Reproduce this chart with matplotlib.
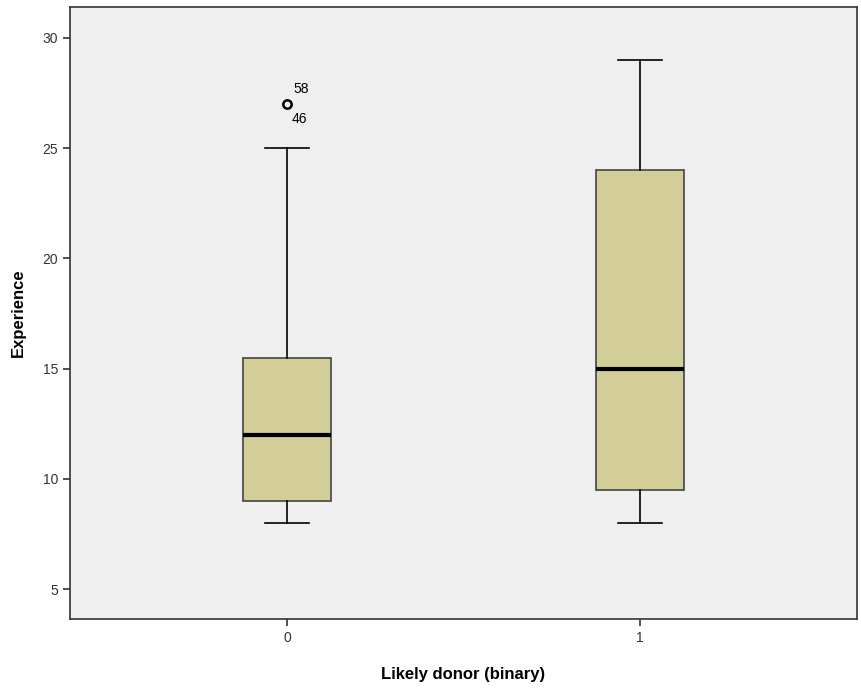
import matplotlib
matplotlib.use("Agg")
import matplotlib.pyplot as plt

plt.rcParams['font.family'] = ['Liberation Sans', 'DejaVu Sans']

grupos = ["0", "1"]
minimos = [8, 8]
q1 = [9, 9.5]
medianas = [12, 15]
q3 = [15.5, 24]
maximos = [25, 29]
outliers = [[27], []]
rotulos_outliers = [["58", "46"], []]

stats = []
for i in range(len(grupos)):
    stats.append({
        "label": grupos[i],
        "whislo": minimos[i],
        "q1": q1[i],
        "med": medianas[i],
        "q3": q3[i],
        "whishi": maximos[i],
        "fliers": outliers[i],
    })

fig = plt.figure(figsize=(8.61, 6.92), dpi=100)
ax = fig.add_axes([70/861, 1 - 619/692, 787/861, 612/692])
ax.set_facecolor("#EFEFEF")

ax.bxp(stats, positions=range(len(grupos)), widths=0.25, patch_artist=True,
       boxprops=dict(facecolor="#D3CE98", edgecolor="#444444", linewidth=1.2),
       medianprops=dict(color="black", linewidth=3),
       whiskerprops=dict(color="black", linewidth=1.2),
       capprops=dict(color="black", linewidth=1.2),
       capwidths=0.125,
       flierprops=dict(marker="o", markerfacecolor="none", markeredgecolor="black",
                       markeredgewidth=1.8, markersize=6))

# numeros dos casos ao lado dos outliers
for i, pts in enumerate(outliers):
    for v in pts:
        ax.annotate(rotulos_outliers[i][0], (i, v), xytext=(6, 8),
                    textcoords="offset pixels", fontsize=10, va="bottom")
        ax.annotate(rotulos_outliers[i][1], (i, v), xytext=(5, -8),
                    textcoords="offset pixels", fontsize=10, va="top")

ax.set_xlim(-0.615, 1.615)
ax.set_ylim(3.64, 31.4)
ax.set_yticks([5, 10, 15, 20, 25, 30])
ax.set_xticks(range(len(grupos)))
ax.set_xticklabels(grupos)
ax.tick_params(axis="both", labelsize=10, length=5, width=1.2, colors="#333333")
for s in ax.spines.values():
    s.set_color("#333333")
    s.set_linewidth(1.2)

ax.set_ylabel("Experience", fontsize=12, fontweight="bold", labelpad=12)
ax.set_xlabel("Likely donor (binary)", fontsize=12, fontweight="bold", labelpad=16)

plt.savefig("out.png", dpi=100)
